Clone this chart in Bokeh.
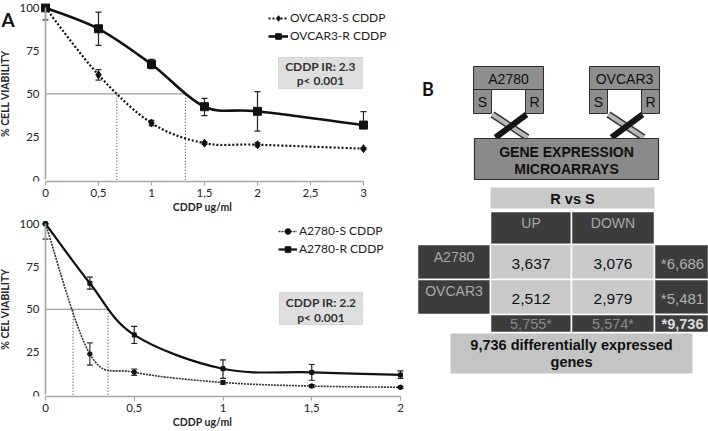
from bokeh.plotting import figure
from bokeh.models import (Range1d, FixedTicker, Legend, LegendItem, Whisker, ColumnDataSource,
                          Label, BoxAnnotation, TeeHead)
from bokeh.layouts import row, column
from bokeh.embed import file_html
from bokeh.resources import INLINE
from bokeh.core.properties import value

# ---------------- DATA ----------------
# Panel A top: OVCAR3
ov_dose = [0, 0.5, 1, 1.5, 2, 3]
ov_s_viab = [100, 61, 33, 21.3, 20.4, 18.1]
ov_s_err = [0, 3, 1.5, 0.8, 1.2, 0.6]
ov_r_viab = [100, 87.8, 67.2, 42.5, 39.8, 31.8]
ov_r_err_up = [0, 9.7, 2.8, 4.8, 11.5, 7.8]
ov_r_err_dn = [7, 9.7, 2.6, 5.2, 11.5, 0]
ov_ic50 = [0.673, 1.32]
ov_xticks = [0, 0.5, 1, 1.5, 2, 2.5, 3]
ov_xlabels = ["0", "0,5", "1", "1,5", "2", "2,5", "3"]
ov_names = ["OVCAR3-S CDDP", "OVCAR3-R CDDP"]
ov_box_text = ["CDDP IR: 2.3", "p< 0.001"]

# Panel A bottom: A2780
a2_dose = [0, 0.25, 0.5, 1, 1.5, 2]
a2_s_viab = [100, 23.8, 13.2, 7.2, 5.1, 4.4]
a2_s_err = [0, 6.5, 1.8, 1.0, 0.8, 0.6]
a2_r_viab = [100, 65.2, 35, 15.2, 13.1, 11.6]
a2_r_err_up = [0, 3.6, 5, 5.2, 4.6, 2.4]
a2_r_err_dn = [9, 3.4, 5, 5.6, 4.6, 2.0]
a2_ic50 = [0.155, 0.352]
a2_xticks = [0, 0.5, 1, 1.5, 2]
a2_xlabels = ["0", "0,5", "1", "1,5", "2"]
a2_names = ["A2780-S CDDP", "A2780-R CDDP"]
a2_box_text = ["CDDP IR: 2.2", "p< 0.001"]

yticks = [0, 25, 50, 75, 100]

# Panel B
cell_lines = ["A2780", "OVCAR3"]
directions = ["UP", "DOWN"]
up_counts = ["3,637", "2,512"]
down_counts = ["3,076", "2,979"]
row_totals = ["*6,686", "*5,481"]
col_totals = ["5,755*", "5,574*"]
grand_total = "*9,736"
summary_lines = ["9,736 differentially expressed", "genes"]
array_lines = ["GENE EXPRESSION", "MICROARRAYS"]

FONT = "Lato"
GFONT = value("Lato")
AFONT = value("Liberation Sans")
INK = "#111111"
AXC = "#a6a6a6"


def smooth(xs, ys, t=1.0 / 6):
    n = len(xs)
    d = dict(x0=[], y0=[], x1=[], y1=[], cx0=[], cy0=[], cx1=[], cy1=[])
    for i in range(n - 1):
        a, b = max(i - 1, 0), min(i + 2, n - 1)
        d["x0"].append(xs[i]); d["y0"].append(ys[i])
        d["x1"].append(xs[i + 1]); d["y1"].append(ys[i + 1])
        d["cx0"].append(xs[i] + (xs[i + 1] - xs[a]) * t)
        d["cy0"].append(ys[i] + (ys[i + 1] - ys[a]) * t)
        d["cx1"].append(xs[i + 1] - (xs[b] - xs[i]) * t)
        d["cy1"].append(ys[i + 1] - (ys[b] - ys[i]) * t)
    return ColumnDataSource(d)


def style_axes(p, xticks, xlabels, xmax):
    p.xaxis.ticker = FixedTicker(ticks=xticks)
    p.xaxis.major_label_overrides = {k: v for k, v in zip(xticks, xlabels)}
    p.yaxis.ticker = FixedTicker(ticks=yticks)
    p.xaxis.bounds = (0, xmax)
    p.yaxis.bounds = (0, 100)
    p.yaxis.fixed_location = 0
    for ax in (p.xaxis, p.yaxis):
        ax.axis_line_color = AXC
        ax.axis_line_width = 1.6
        ax.major_tick_line_color = AXC
        ax.major_tick_line_width = 1.2
        ax.minor_tick_line_color = None
        ax.major_tick_in = 0
        ax.major_label_text_font = FONT
        ax.major_label_text_font_size = "11.5px"
        ax.major_label_text_color = "#262626"
        ax.axis_label_text_font = FONT
        ax.axis_label_text_font_style = "bold"
        ax.axis_label_text_font_size = "10.5px"
        ax.axis_label_text_color = "#262626"
    p.xaxis.major_tick_out = 4
    p.yaxis.major_tick_out = 0
    p.xaxis.major_label_standoff = 3
    p.yaxis.major_label_standoff = 6
    p.xaxis.axis_label_standoff = 1
    p.yaxis.axis_label_standoff = 5
    p.xgrid.visible = False
    p.ygrid.visible = False
    p.outline_line_color = None


def panel(width, height, xr, xticks, xlabels, xmax, ylabel):
    p = figure(width=width, height=height, x_range=Range1d(*xr), y_range=Range1d(-1, 102.5),
               output_backend="svg", toolbar_location=None,
               min_border_left=0, min_border_right=8, min_border_top=3, min_border_bottom=35)
    p.xaxis.axis_label = "CDDP ug/ml"
    p.yaxis.axis_label = ylabel
    style_axes(p, xticks, xlabels, xmax)
    return p


def add_series(p, dose, viab, up, dn, line_kw, marker, msize, whisk_color):
    p.bezier(x0="x0", y0="y0", x1="x1", y1="y1", cx0="cx0", cy0="cy0", cx1="cx1", cy1="cy1",
             source=smooth(dose, viab), **line_kw)
    src = ColumnDataSource(dict(x=dose, y=viab,
                                upper=[v + e for v, e in zip(viab, up)],
                                lower=[v - e for v, e in zip(viab, dn)]))
    p.add_layout(Whisker(source=src, base="x", upper="upper", lower="lower", dimension="height",
                         line_color=whisk_color, line_width=1.2,
                         upper_head=TeeHead(size=6, line_color=whisk_color, line_width=1.2),
                         lower_head=TeeHead(size=6, line_color=whisk_color, line_width=1.2)))
    sc = p.scatter("x", "y", source=src, marker=marker, size=msize, color=INK)
    # one-point line: draws nothing in the plot, only provides the legend's line sample
    proxy = p.line(x=dose[:1], y=viab[:1], **line_kw)
    return [proxy, sc]


def add_ic50(p, ic50):
    p.segment(x0=[0], y0=[50], x1=[ic50[1]], y1=[50], line_color="#a0a0a0", line_width=1.3)
    p.segment(x0=ic50, y0=[0, 0], x1=ic50, y1=[50, 50], line_color="#555555", line_width=1.2,
              line_dash="1 2")


def add_box(p, left, right, bottom, top, lines, ys):
    p.add_layout(BoxAnnotation(left=left, right=right, bottom=bottom, top=top,
                               fill_color="#dedede", fill_alpha=1, line_color="#9a9a9a", line_width=1))
    for t, yv in zip(lines, ys):
        p.add_layout(Label(x=(left + right) / 2, y=yv, text=t, text_align="center", text_baseline="middle",
                           text_font=FONT, text_font_style="bold", text_font_size="12px", text_color="#333333"))


def add_legend(p, items, names, loc, gw):
    lg = Legend(items=[LegendItem(label=n, renderers=r) for n, r in zip(names, items)],
                location=loc, padding=0, margin=0, spacing=3, glyph_width=gw, glyph_height=14,
                label_height=14, label_width=95, label_standoff=2, border_line_color=None,
                background_fill_alpha=0, label_text_font=FONT, label_text_font_size="12px",
                label_text_color="#222222")
    p.add_layout(lg)


# ---------- top (OVCAR3) ----------
top = panel(412, 216, (-0.4245, 3.387), ov_xticks, ov_xlabels, 3, "% CELL VIABILITY")
add_ic50(top, ov_ic50)
s_items = add_series(top, ov_dose, ov_s_viab, ov_s_err, ov_s_err,
                     dict(line_color=INK, line_width=2.2, line_dash="2 2"), "diamond", 8, "#333333")
r_items = add_series(top, ov_dose, ov_r_viab, ov_r_err_up, ov_r_err_dn,
                     dict(line_color=INK, line_width=2.6), "square", 8, "#222222")
add_box(top, 2.198, 2.99, 53.1, 71.1, ov_box_text, [65.9, 57.7])
add_legend(top, [s_items, r_items], ov_names, (268, 138), 20)
top.add_layout(Label(x=1, y=162, x_units="screen", y_units="screen", text="A", text_align="left",
                     text_baseline="middle", text_font=FONT, text_font_style="bold",
                     text_font_size="19px", text_color="#111111"))

# ---------- bottom (A2780) ----------
bot = panel(412, 215, (-0.2535, 2.0225), a2_xticks, a2_xlabels, 2, "% CEL VIABILITY")
add_ic50(bot, a2_ic50)
s2 = add_series(bot, a2_dose, a2_s_viab, a2_s_err, a2_s_err,
                dict(line_color="#333333", line_width=1.6, line_dash="2 1"), "circle", 4.5, "#333333")
r2 = add_series(bot, a2_dose, a2_r_viab, a2_r_err_up, a2_r_err_dn,
                dict(line_color=INK, line_width=2.2), "square", 4, "#222222")
add_box(bot, 1.318, 1.786, 41.1, 59.8, a2_box_text, [53.8, 45.4])
add_legend(bot, [s2, r2], a2_names, (278, 140), 19)

# ---------- panel B ----------
pb = figure(width=296, height=431, x_range=Range1d(412, 708), y_range=Range1d(431, 0),
            output_backend="svg", toolbar_location=None, x_axis_type=None, y_axis_type=None,
            min_border=0)
pb.xgrid.visible = False
pb.ygrid.visible = False
pb.outline_line_color = None

BOXC = "#8e8e8e"
EDGE = "#2e2e2e"
box_left = [473, 589]
box_w, s_w = 70, 18
head_top, head_bot, sr_bot = 66, 89, 113
band_top, band_bot = 114, 137

pb.quad(left=box_left, right=[b + box_w for b in box_left], top=[head_top] * 2, bottom=[head_bot] * 2,
        fill_color=BOXC, line_color=EDGE, line_width=1)
pb.quad(left=box_left, right=[b + s_w for b in box_left], top=[head_bot] * 2, bottom=[sr_bot] * 2,
        fill_color=BOXC, line_color=EDGE, line_width=1)
pb.quad(left=[b + box_w - s_w for b in box_left], right=[b + box_w for b in box_left],
        top=[head_bot] * 2, bottom=[sr_bot] * 2, fill_color=BOXC, line_color=EDGE, line_width=1)
pb.text(x=[b + box_w / 2 for b in box_left], y=[(head_top + head_bot) / 2 + 0.5] * 2, text=cell_lines,
        text_align="center", text_baseline="middle", text_font=AFONT, text_font_size="14px",
        text_color="#111111")
pb.text(x=[b + s_w / 2 for b in box_left] + [b + box_w - s_w / 2 for b in box_left],
        y=[(head_bot + sr_bot) / 2 + 0.5] * 4, text=["S", "S", "R", "R"],
        text_align="center", text_baseline="middle", text_font=AFONT, text_font_size="14px",
        text_color="#111111")
# crossing bands
lx0 = [b + s_w + 1 for b in box_left]
lx1 = [b + 54 for b in box_left]
pb.segment(x0=lx0, y0=[band_top] * 2, x1=lx1, y1=[band_bot] * 2, line_color="#333333", line_width=7)
pb.segment(x0=lx0, y0=[band_top] * 2, x1=lx1, y1=[band_bot] * 2, line_color="#b8b8b8", line_width=4)
pb.segment(x0=[b + 53 for b in box_left], y0=[band_top] * 2, x1=[b + 22 for b in box_left],
           y1=[band_bot] * 2, line_color="#151515", line_width=6)
# microarray box
pb.quad(left=[474], right=[658], top=[138], bottom=[179], fill_color="#8a8a8a", line_color=EDGE,
        line_width=1.2)
pb.text(x=[566, 566], y=[151, 168], text=array_lines, text_align="center", text_baseline="middle",
        text_font=AFONT, text_font_style="bold", text_font_size="14px", text_color="#111111")
pb.text(x=[427.5], y=[88], text=["B"], text_align="center", text_baseline="middle", text_font=GFONT,
        text_font_style="bold", text_font_size="18px", text_color="#111111")

# table
DARK = "#3c3c3c"
LIGHT = "#c9c9c9"
WHITE = "#ffffff"
col_e = [417, 490, 571, 654, 708]
row_e = [244, 279, 314, 332]
hdr_top, hdr_bot = 211, 244
# R vs S
pb.quad(left=[col_e[1]], right=[col_e[3]], top=[187], bottom=[208], fill_color=LIGHT, line_color=None)
pb.text(x=[(col_e[1] + col_e[3]) / 2], y=[198], text=["R vs S"], text_align="center",
        text_baseline="middle", text_font=AFONT, text_font_style="bold", text_font_size="14.5px",
        text_color="#111111")
# header row
pb.quad(left=col_e[1:3], right=col_e[2:4], top=[hdr_top] * 2, bottom=[hdr_bot] * 2, fill_color=DARK,
        line_color=WHITE, line_width=1.5)
pb.text(x=[(col_e[1] + col_e[2]) / 2, (col_e[2] + col_e[3]) / 2], y=[222] * 2, text=directions,
        text_align="center", text_baseline="middle", text_font=AFONT, text_font_size="14px",
        text_color="#a8a8a8")
# row headers
pb.quad(left=[col_e[0]] * 2, right=[col_e[1]] * 2, top=row_e[0:2], bottom=row_e[1:3], fill_color=DARK,
        line_color=WHITE, line_width=1.5)
pb.text(x=[(col_e[0] + col_e[1]) / 2] * 2, y=[row_e[0] + 12, row_e[1] + 11], text=cell_lines,
        text_align="center", text_baseline="middle", text_font=AFONT, text_font_size="14px",
        text_color="#a8a8a8")
# value cells
pb.quad(left=[col_e[1], col_e[2], col_e[1], col_e[2]], right=[col_e[2], col_e[3], col_e[2], col_e[3]],
        top=[row_e[0], row_e[0], row_e[1], row_e[1]], bottom=[row_e[1], row_e[1], row_e[2], row_e[2]],
        fill_color=LIGHT, line_color=WHITE, line_width=1.5)
vx = [(col_e[1] + col_e[2]) / 2, (col_e[2] + col_e[3]) / 2]
vy = [row_e[0] + 19, row_e[1] + 19]
pb.text(x=[vx[0], vx[1], vx[0], vx[1]], y=[vy[0], vy[0], vy[1], vy[1]],
        text=[up_counts[0], down_counts[0], up_counts[1], down_counts[1]], text_align="center",
        text_baseline="middle", text_font=AFONT, text_font_size="15.5px", text_color="#111111")
# row totals
pb.quad(left=[col_e[3]] * 2, right=[col_e[4]] * 2, top=row_e[0:2], bottom=row_e[1:3], fill_color=DARK,
        line_color=WHITE, line_width=1.5)
pb.text(x=[(col_e[3] + col_e[4]) / 2 + 1] * 2, y=vy, text=row_totals, text_align="center",
        text_baseline="middle", text_font=AFONT, text_font_size="15px", text_color="#b0b0b0")
# column totals
pb.quad(left=col_e[1:4], right=col_e[2:5], top=[row_e[2]] * 3, bottom=[row_e[3]] * 3, fill_color=DARK,
        line_color=WHITE, line_width=1.5)
pb.text(x=vx, y=[323.5] * 2, text=col_totals, text_align="center", text_baseline="middle",
        text_font=AFONT, text_font_size="14.5px", text_color="#8a8a8a")
pb.text(x=[(col_e[3] + col_e[4]) / 2 + 1], y=[323.5], text=[grand_total], text_align="center",
        text_baseline="middle", text_font=AFONT, text_font_style="bold", text_font_size="14.5px",
        text_color="#dcdcdc")
# summary
pb.quad(left=[450], right=[692], top=[333], bottom=[373], fill_color="#c4c4c4", line_color=None)
pb.text(x=[571, 571], y=[344, 361.5], text=summary_lines, text_align="center", text_baseline="middle",
        text_font=AFONT, text_font_style="bold", text_font_size="14.5px", text_color="#111111")

layout = row(column(top, bot), pb)
open("out.html", "w").write(file_html(layout, INLINE))
